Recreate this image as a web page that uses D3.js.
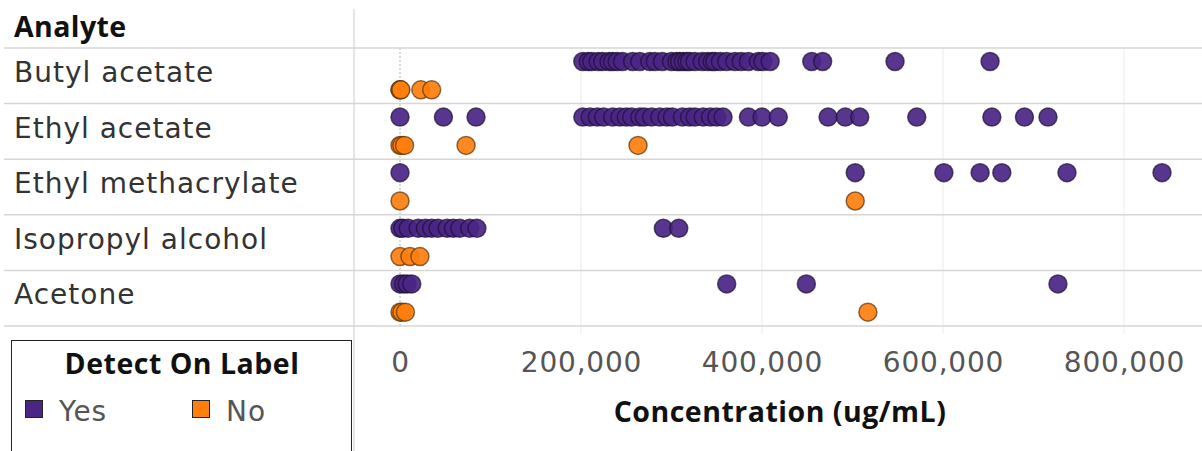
<!DOCTYPE html>
<html>
<head>
<meta charset="utf-8">
<script src="https://cdn.jsdelivr.net/npm/d3@7"></script>
<style>
  html, body { margin: 0; padding: 0; background: #fff; }
  svg { display: block; }
  .lbl { font-family: "DejaVu Sans", sans-serif; }
  .bold { font-family: "Open Sans", sans-serif; font-weight: 700; }
</style>
</head>
<body>
<svg id="chart" width="1202" height="451"></svg>
<script>
// Analytes, top to bottom
const analytes = ["Butyl acetate", "Ethyl acetate", "Ethyl methacrylate", "Isopropyl alcohol", "Acetone"];
const detectLevels = ["Yes", "No"];
const tickValues = [0, 200000, 400000, 600000, 800000];

// Concentrations (ug/mL) per analyte, split by "Detect On Label"
const butylYes = [202000, 208000, 212000, 219000, 224000, 231000, 235000, 240000, 246000, 257000, 265000, 276000, 282000, 290000, 300000, 306000, 309000, 313000, 317000, 320000, 326000, 334000, 340000, 345000, 348000, 354000, 361000, 370000, 377000, 385000, 396000, 401000, 409000, 455000, 467000, 547000, 652000];
const butylNo = [0, 0, 1000, 23000, 35000];
const ethylYes = [0, 48000, 84000, 202000, 210000, 218000, 225000, 235000, 243000, 250000, 256000, 265000, 270000, 278000, 287000, 295000, 301000, 312000, 320000, 326000, 335000, 343000, 350000, 357000, 385000, 400000, 418000, 473000, 492000, 508000, 571000, 654000, 690000, 716000];
const ethylNo = [0, 2000, 5000, 73000, 263000];
const methacrylateYes = [0, 503000, 601000, 641000, 665000, 737000, 842000];
const methacrylateNo = [0, 503000];
const isopropylYes = [0, 3000, 9000, 20000, 28000, 35000, 42000, 52000, 59000, 66000, 77000, 85000, 291000, 308000];
const isopropylNo = [0, 11000, 22000];
const acetoneYes = [0, 4000, 8000, 13000, 361000, 449000, 727000];
const acetoneNo = [0, 2000, 6000, 517000];

const seriesByAnalyte = {
  "Butyl acetate": { Yes: butylYes, No: butylNo },
  "Ethyl acetate": { Yes: ethylYes, No: ethylNo },
  "Ethyl methacrylate": { Yes: methacrylateYes, No: methacrylateNo },
  "Isopropyl alcohol": { Yes: isopropylYes, No: isopropylNo },
  "Acetone": { Yes: acetoneYes, No: acetoneNo }
};

const points = [];
analytes.forEach(a => detectLevels.forEach(d => {
  seriesByAnalyte[a][d].forEach(v => points.push({ analyte: a, detect: d, value: v }));
}));

const colors = { Yes: "#4a2585", No: "#ff7f0e" };
const strokes = { Yes: "#1e1033", No: "#5a3208" };

const svg = d3.select("#chart");
const W = 1202, H = 451;
const dividerX = 354;
const plotTop = 48, plotBottom = 326;

const x = d3.scaleLinear().domain([0, 800000]).range([400, 1124]);
const y = d3.scaleBand().domain(analytes).range([plotTop, plotBottom]);
const ySub = d3.scalePoint().domain(detectLevels).range([13.5, 41.8]);

// vertical gridlines
svg.append("g")
  .selectAll("line")
  .data(tickValues.filter(t => t > 0))
  .join("line")
  .attr("x1", d => x(d)).attr("x2", d => x(d))
  .attr("y1", plotTop).attr("y2", plotBottom + 8)
  .attr("stroke", "#ebebeb").attr("stroke-width", 1);

// zero reference line
svg.append("line")
  .attr("x1", x(0)).attr("x2", x(0))
  .attr("y1", plotTop).attr("y2", plotBottom)
  .attr("stroke", "#b5b5b5").attr("stroke-width", 1)
  .attr("stroke-dasharray", "2,2");

// row separators
const rowEdges = analytes.map(a => y(a)).concat([plotBottom]);
svg.append("g")
  .selectAll("line")
  .data(rowEdges)
  .join("line")
  .attr("x1", 4).attr("x2", W)
  .attr("y1", d => d).attr("y2", d => d)
  .attr("stroke", "#d6d6d6").attr("stroke-width", 1.5);

// pane divider
svg.append("line")
  .attr("x1", dividerX).attr("x2", dividerX)
  .attr("y1", 9).attr("y2", H)
  .attr("stroke", "#d6d6d6").attr("stroke-width", 1.2);

// row header and labels
svg.append("text")
  .attr("class", "bold")
  .attr("x", 14).attr("y", 37)
  .attr("font-size", 28.5)
  .attr("letter-spacing", 0.4)
  .attr("fill", "#111")
  .text("Analyte");

svg.append("g")
  .selectAll("text")
  .data(analytes)
  .join("text")
  .attr("class", "lbl")
  .attr("x", 14)
  .attr("y", d => y(d) + 34)
  .attr("font-size", 28)
  .attr("letter-spacing", 1)
  .attr("fill", "#333")
  .text(d => d);

// dots
svg.append("g")
  .selectAll("circle")
  .data(points)
  .join("circle")
  .attr("cx", d => x(d.value))
  .attr("cy", d => y(d.analyte) + ySub(d.detect))
  .attr("r", 9)
  .attr("fill", d => colors[d.detect])
  .attr("fill-opacity", 0.92)
  .attr("stroke", d => strokes[d.detect])
  .attr("stroke-opacity", 0.7)
  .attr("stroke-width", 1.5);

// x axis
const xAxis = d3.axisBottom(x)
  .tickValues(tickValues)
  .tickSize(0)
  .tickPadding(0)
  .tickFormat(d3.format(","));
const gx = svg.append("g")
  .attr("transform", `translate(0, 352)`)
  .call(xAxis);
gx.select(".domain").remove();
gx.selectAll("text")
  .attr("class", "lbl")
  .attr("font-size", 28)
  .attr("letter-spacing", 0.8)
  .attr("fill", "#555")
  .attr("dy", "0.72em");

svg.append("text")
  .attr("class", "bold")
  .attr("x", 780).attr("y", 422)
  .attr("text-anchor", "middle")
  .attr("font-size", 28.5)
  .attr("letter-spacing", 0.5)
  .attr("fill", "#111")
  .text("Concentration (ug/mL)");

// legend
const lg = svg.append("g");
lg.append("rect")
  .attr("x", 11.5).attr("y", 340.5)
  .attr("width", 340).attr("height", 130)
  .attr("fill", "#fff")
  .attr("stroke", "#222").attr("stroke-width", 1);
lg.append("text")
  .attr("class", "bold")
  .attr("x", 182).attr("y", 374)
  .attr("text-anchor", "middle")
  .attr("font-size", 28.5)
  .attr("letter-spacing", 0.5)
  .attr("fill", "#111")
  .text("Detect On Label");
const legendX = d3.scalePoint().domain(detectLevels).range([25, 192]);
const items = lg.selectAll("g.item")
  .data(detectLevels)
  .join("g")
  .attr("class", "item")
  .attr("transform", d => `translate(${legendX(d)}, 400)`);
items.append("rect")
  .attr("x", 0.5).attr("y", 0.5)
  .attr("width", 17).attr("height", 17)
  .attr("fill", d => colors[d])
  .attr("stroke", "#222").attr("stroke-width", 1);
items.append("text")
  .attr("class", "lbl")
  .attr("x", 34).attr("y", 21)
  .attr("font-size", 28)
  .attr("letter-spacing", 1)
  .attr("fill", "#555")
  .text(d => d);
</script>
</body>
</html>
